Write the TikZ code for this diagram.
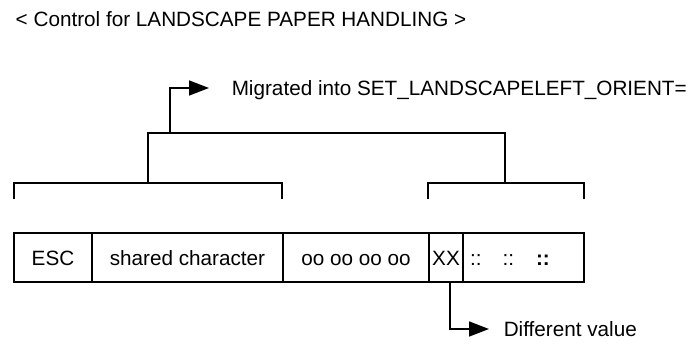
\documentclass[tikz,border=0pt]{standalone}
\usepackage{fontspec}
\setmainfont{Liberation Sans}
\usetikzlibrary{arrows.meta}

\tikzset{
  cell/.style={draw, minimum height=49pt, inner sep=0pt, outer sep=0pt, text height=15pt, text depth=0pt},
  lbl/.style={anchor=west, inner sep=0pt, text height=15pt, text depth=0pt},
  arr/.style={-{Triangle[length=20pt,width=15pt]}},
}

\begin{document}
\begin{tikzpicture}[x=1pt, y=-1pt, line width=1.5pt, font=\fontsize{20.7}{24}\selectfont]
            \useasboundingbox (0,0) rectangle (700,345);

            \node[lbl] (title) at (15,19) {< Control for LANDSCAPE PAPER HANDLING >};
            \node[lbl] (migrated) at (231,88) {Migrated into SET\_LANDSCAPELEFT\_ORIENT=};

            \node[cell, minimum width=78pt] (esc) at (53,257.5) {ESC};
            \node[cell, minimum width=191pt] (shared) at (187.5,257.5) {shared character};
            \node[cell, minimum width=146pt] (oo) at (356,257.5) {oo oo oo oo};
            \node[cell, minimum width=34pt] (xx) at (446,257.5) {XX};
            \node[cell, minimum width=121pt] (dots) at (523.5,257.5) {\makebox[107pt][l]{::\hspace{21pt}::\hspace{22pt}\textbf{::}}};

            \node[lbl] (diff) at (503,329) {Different value};

            \coordinate (lbrk) at (148,183);
            \coordinate (rbrk) at (505,183);
            \coordinate (stem) at (170,133);

            \draw (14,199) -- (14,183) -- (282,183) -- (282,199);
            \draw (428,199) -- (428,183) -- (584,183) -- (584,199);
            \draw (lbrk) -- (148,133) -- (505,133) -- (rbrk);

            \draw[arr, shorten >=22pt] (stem) |- (migrated);
            \draw[arr, shorten >=14pt] ([xshift=4pt]xx.south) |- (diff);
        \end{tikzpicture}
\end{document}
